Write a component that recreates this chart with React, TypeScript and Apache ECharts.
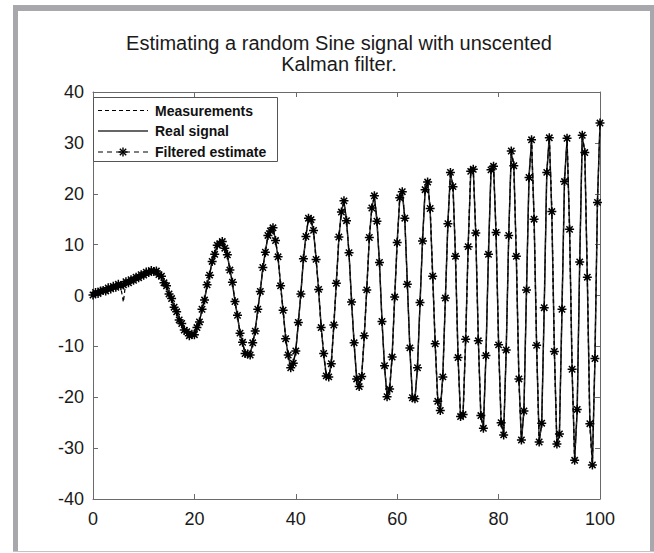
import React, { useEffect, useRef } from "react";
import * as echarts from "echarts";

const TITLE_LINES = ["Estimating a random Sine signal with unscented", "Kalman filter."];
const SERIES_NAMES = ["Measurements", "Real signal", "Filtered estimate"];
const X_MIN = 0;
const X_MAX = 100;
const X_STEP = 20;
const Y_MIN = -40;
const Y_MAX = 40;
const Y_STEP = 10;
const SAMPLE_STEP = 0.5;

// Real signal, one value per 0.5 time unit from 0 to 100
const realSignal = [
  0.3, 0.4, 0.6, 0.8, 0.9, 1.1, 1.3, 1.4, 1.6, 1.8,
  2.0, 2.1, 2.3, 2.5, 2.7, 2.9, 3.1, 3.4, 3.6, 3.9,
  4.1, 4.4, 4.6, 4.75, 4.8, 4.66, 4.26, 3.6, 2.72, 1.65,
  0.45, -0.84, -2.16, -3.45, -4.65, -5.72, -6.6, -7.26, -7.66, -7.8,
  -7.47, -6.49, -4.94, -2.93, -0.62, 1.84, 4.27, 6.48, 8.33, 9.66,
  10.38, 10.42, 9.55, 7.79, 5.3, 2.29, -0.98, -4.23, -7.15, -9.5,
  -11.1, -11.78, -11.36, -9.6, -6.71, -3.0, 1.11, 5.2, 8.78, 11.46,
  12.95, 13.02, 11.08, 7.3, 2.27, -3.17, -8.2, -11.98, -13.92, -13.6,
  -10.65, -5.59, 0.65, 6.89, 11.95, 14.9, 15.16, 12.52, 7.45, 0.88,
  -5.94, -11.74, -15.44, -16.31, -13.09, -6.11, 2.77, 11.15, 16.8, 18.21,
  15.02, 8.05, -0.93, -9.66, -16.01, -18.3, -15.61, -8.3, 1.52, 11.05,
  17.57, 19.18, 15.02, 6.15, -4.73, -14.24, -19.5, -18.77, -11.76, -0.69,
  10.75, 18.81, 20.81, 14.8, 2.62, -10.73, -19.69, -20.66, -13.85, -1.85,
  11.08, 20.36, 22.72, 16.65, 4.16, -9.97, -20.34, -22.98, -15.6, -0.93,
  14.47, 23.72, 21.87, 7.29, -11.82, -24.27, -22.93, -8.99, 9.99, 23.93,
  25.19, 11.9, -8.52, -24.08, -25.67, -12.2, 8.47, 24.25, 25.84, 12.0,
  -9.26, -25.46, -26.93, -11.16, 12.16, 27.93, 25.97, 7.3, -16.01, -28.89,
  -22.29, 0.65, 23.59, 30.14, 15.4, -10.2, -28.38, -25.54, -2.0, 23.79,
  31.42, 16.05, -10.64, -29.6, -26.81, -3.13, 22.84, 30.46, 13.41, -14.91,
  -31.96, -22.82, 7.0, 31.09, 28.57, 3.14, -24.74, -32.86, -12.8, 18.7,
  33.6,
];

// Filtered estimate (star markers)
const filteredEstimate = [
  0.1, 0.6, 0.4, 0.9, 1.0, 0.9, 1.5, 1.3, 1.8, 1.6,
  2.2, 1.9, 2.1, 2.7, 2.5, 3.1, 3.0, 3.6, 3.5, 4.1,
  4.0, 4.6, 4.5, 4.9, 4.7, 4.8, 4.1, 3.8, 2.5, 1.9,
  0.3, -0.6, -2.3, -3.2, -4.8, -5.5, -6.8, -7.1, -7.9, -7.6,
  -7.7, -6.3, -5.2, -2.7, -0.9, 2.1, 4.0, 6.7, 8.1, 9.9,
  10.2, 10.6, 9.3, 8.0, 5.0, 2.6, -1.2, -3.9, -7.4, -9.2,
  -11.4, -11.5, -11.7, -9.3, -7.0, -2.7, 0.8, 5.5, 8.5, 11.8,
  12.7, 13.3, 10.8, 7.6, 1.9, -2.9, -8.5, -11.7, -14.2, -13.3,
  -10.9, -5.3, 0.3, 7.2, 11.6, 15.2, 14.9, 12.8, 7.1, 1.2,
  -6.3, -11.4, -15.8, -16.0, -13.4, -5.8, 2.4, 11.5, 16.4, 18.6,
  14.7, 8.4, -1.3, -9.3, -16.4, -17.9, -15.9, -7.9, 1.1, 11.4,
  17.2, 19.6, 14.6, 6.5, -5.1, -13.8, -19.9, -18.4, -12.1, -0.3,
  10.4, 19.2, 20.4, 15.2, 2.2, -10.3, -20.1, -20.3, -14.2, -1.4,
  10.7, 20.8, 22.3, 17.1, 3.8, -9.5, -20.8, -22.6, -16.0, -0.5,
  14.1, 24.2, 21.4, 7.7, -12.2, -23.8, -23.4, -8.6, 9.6, 24.4,
  24.8, 12.3, -8.9, -23.6, -26.1, -11.8, 8.1, 24.7, 25.4, 12.4,
  -9.7, -25.0, -27.4, -10.7, 11.8, 28.4, 25.5, 7.7, -16.4, -28.4,
  -22.7, 1.1, 23.2, 30.6, 15.0, -9.8, -28.8, -25.1, -2.4, 24.2,
  31.0, 16.5, -11.0, -29.2, -27.2, -2.7, 22.4, 30.9, 13.0, -14.5,
  -32.4, -22.4, 6.6, 31.5, 28.1, 3.6, -25.2, -33.3, -12.4, 18.3,
  33.9,
];

// Noisy measurements (dashed)
const measurements = [
  0.7, -0.2, 1.1, 0.3, 1.4, 0.6, 1.9, 0.8, 2.1, 1.2,
  2.6, 1.5, -1.3, 3.0, 2.0, 3.5, 2.5, 4.0, 3.0, 4.5,
  3.5, 5.1, 4.0, 5.3, 4.2, 5.2, 3.7, 4.2, 2.1, 2.3,
  -0.2, -0.2, -2.8, -2.8, -5.3, -5.1, -7.2, -6.6, -8.3, -7.2,
  -8.1, -5.9, -5.6, -2.3, -1.2, 2.4, 3.7, 7.1, 7.8, 10.3,
  9.8, 11.0, 9.0, 8.4, 4.7, 2.9, -1.6, -3.6, -7.8, -8.9,
  -11.7, -11.2, -12.0, -9.0, -7.3, -2.4, 0.5, 5.8, 8.2, 12.1,
  12.4, 13.6, 10.5, 7.9, 1.6, -2.6, -8.8, -11.4, -14.5, -13.0,
  -11.2, -5.0, 0.0, 7.5, 11.3, 15.5, 14.6, 13.1, 6.8, 1.5,
  -6.6, -11.1, -16.1, -15.7, -13.7, -5.5, 2.1, 11.8, 16.1, 18.9,
  14.4, 8.7, -1.6, -9.0, -16.7, -17.6, -16.2, -7.6, 0.8, 11.7,
  16.9, 19.9, 14.3, 6.8, -5.4, -13.5, -20.2, -18.1, -12.4, 0.0,
  10.1, 19.5, 20.1, 15.5, 1.9, -10.0, -20.4, -20.0, -14.5, -1.1,
  10.4, 21.1, 22.0, 17.4, 3.5, -9.2, -21.1, -22.3, -16.3, -0.2,
  13.8, 24.5, 21.1, 8.0, -12.5, -23.5, -23.7, -8.3, 9.3, 24.7,
  24.5, 12.6, -9.2, -23.3, -26.4, -11.5, 7.8, 25.0, 25.1, 12.7,
  -10.0, -24.7, -27.7, -10.4, 11.5, 28.7, 25.2, 8.0, -16.7, -28.1,
  -23.0, 1.4, 22.9, 30.9, 14.7, -9.5, -29.1, -24.8, -2.7, 24.5,
  30.7, 16.8, -11.3, -28.9, -27.5, -2.4, 22.1, 31.2, 12.7, -14.2,
  -32.7, -22.1, 6.3, 31.8, 27.8, 3.9, -25.5, -33.6, -12.1, 18.0,
  34.2,
];

const FONT = "'Liberation Sans', Arial, Helvetica, sans-serif";
const STAR =
  "path://M0,-10L0,10M-10,0L10,0M-7.07,-7.07L7.07,7.07M-7.07,7.07L7.07,-7.07";

const toPairs = (vals: number[]) => vals.map((v, i) => [i * SAMPLE_STEP, v]);

function starLines(cx: number, cy: number, r: number) {
  const d = r * 0.707;
  const segs = [
    [cx, cy - r, cx, cy + r],
    [cx - r, cy, cx + r, cy],
    [cx - d, cy - d, cx + d, cy + d],
    [cx - d, cy + d, cx + d, cy - d],
  ];
  return segs.map((s) => ({
    type: "line",
    shape: { x1: s[0], y1: s[1], x2: s[2], y2: s[3] },
    style: { stroke: "#000", lineWidth: 1.4 },
    z: 30,
  }));
}

export default function App() {
  const ref = useRef<HTMLDivElement>(null);
  useEffect(() => {
    if (!ref.current) return;
    const chart = echarts.init(ref.current, undefined, { renderer: "svg" });
    const axisColor = "#6a6a6a";
    const baseX = {
      type: "value" as const,
      min: X_MIN,
      max: X_MAX,
      interval: X_STEP,
      splitLine: { show: false },
      axisLine: { show: true, onZero: false, lineStyle: { color: axisColor, width: 1 } },
      axisTick: { show: true, inside: true, length: 5, lineStyle: { color: axisColor } },
    };
    const baseY = {
      type: "value" as const,
      min: Y_MIN,
      max: Y_MAX,
      interval: Y_STEP,
      splitLine: { show: false },
      axisLine: { show: true, onZero: false, lineStyle: { color: axisColor, width: 1 } },
      axisTick: { show: true, inside: true, length: 5, lineStyle: { color: axisColor } },
    };

    // Legend drawn by hand (box, line samples, star, labels)
    const legX = 93.5;
    const legY = 97.5;
    const rowY = [110.5, 131, 152];
    const lx1 = 98;
    const lx2 = 148;
    const legendGraphics: any[] = [
      {
        type: "rect",
        shape: { x: legX, y: legY, width: 184, height: 64 },
        style: { fill: "#fff", stroke: "#555", lineWidth: 1 },
        z: 20,
      },
      {
        type: "line",
        shape: { x1: lx1, y1: rowY[0], x2: lx2, y2: rowY[0] },
        style: { stroke: "#000", lineWidth: 1.2, lineDash: [4, 3] },
        z: 25,
      },
      {
        type: "line",
        shape: { x1: lx1, y1: rowY[1], x2: lx2, y2: rowY[1] },
        style: { stroke: "#333", lineWidth: 1.4 },
        z: 25,
      },
      {
        type: "line",
        shape: { x1: lx1, y1: rowY[2], x2: lx2, y2: rowY[2] },
        style: { stroke: "#000", lineWidth: 1.2, lineDash: [5, 4] },
        z: 25,
      },
      ...starLines((lx1 + lx2) / 2, rowY[2], 4.5),
      ...SERIES_NAMES.map((name, i) => ({
        type: "text",
        x: 155,
        y: rowY[i],
        style: {
          text: name,
          fontFamily: FONT,
          fontSize: 14,
          fontWeight: "bold",
          fill: "#111",
          textVerticalAlign: "middle",
          verticalAlign: "middle",
        },
        z: 25,
      })),
    ];

    // Title drawn as two separate text lines
    const titleGraphics: any[] = TITLE_LINES.map((line, i) => ({
      type: "text",
      x: 339,
      y: 43 + i * 20.5,
      style: {
        text: line,
        fontFamily: FONT,
        fontSize: 20,
        fill: "#1a1a1a",
        align: "center",
        textAlign: "center",
        verticalAlign: "middle",
        textVerticalAlign: "middle",
      },
      z: 10,
    }));

    chart.setOption({
      animation: false,
      backgroundColor: "#ffffff",
      graphic: [
        { type: "rect", shape: { x: 13, y: 5, width: 5, height: 547 }, style: { fill: "#a8a8ac" } },
        { type: "rect", shape: { x: 13, y: 5, width: 641, height: 6 }, style: { fill: "#a8a8ac" } },
        { type: "rect", shape: { x: 650, y: 5, width: 4, height: 547 }, style: { fill: "#a8a8ac" } },
        { type: "rect", shape: { x: 13, y: 551, width: 641, height: 1 }, style: { fill: "#c4c4c6" } },
        ...titleGraphics,
        ...legendGraphics,
      ],
      grid: { left: 93, right: 54, top: 92, bottom: 54, containLabel: false },
      xAxis: [
        {
          ...baseX,
          position: "bottom",
          axisLabel: { show: true, margin: 11, fontFamily: FONT, fontSize: 18, color: "#1a1a1a" },
        },
        { ...baseX, position: "top", axisLabel: { show: false } },
      ],
      yAxis: [
        {
          ...baseY,
          position: "left",
          axisLabel: { show: true, margin: 9, fontFamily: FONT, fontSize: 18, color: "#1a1a1a" },
        },
        { ...baseY, position: "right", axisLabel: { show: false } },
      ],
      series: [
        {
          name: SERIES_NAMES[0],
          type: "line",
          data: toPairs(measurements),
          symbol: "none",
          lineStyle: { color: "#000000", width: 1.2, type: [4, 3] },
          itemStyle: { color: "#000000" },
          z: 2,
        },
        {
          name: SERIES_NAMES[1],
          type: "line",
          data: toPairs(realSignal),
          symbol: "none",
          lineStyle: { color: "#333333", width: 1.5, type: "solid" },
          itemStyle: { color: "#333333" },
          z: 3,
        },
        {
          name: SERIES_NAMES[2],
          type: "line",
          data: toPairs(filteredEstimate),
          symbol: STAR,
          symbolSize: 9,
          symbolKeepAspect: true,
          showAllSymbol: true,
          lineStyle: { color: "#000000", width: 1.2, type: [4, 3] },
          itemStyle: { color: "#000000", borderColor: "#000000", borderWidth: 1.5 },
          z: 4,
        },
      ],
    });
    return () => chart.dispose();
  }, []);
  return (
    <div
      ref={ref}
      style={{ position: "absolute", left: 0, top: 0, width: 654, height: 553, background: "#fff" }}
    />
  );
}
